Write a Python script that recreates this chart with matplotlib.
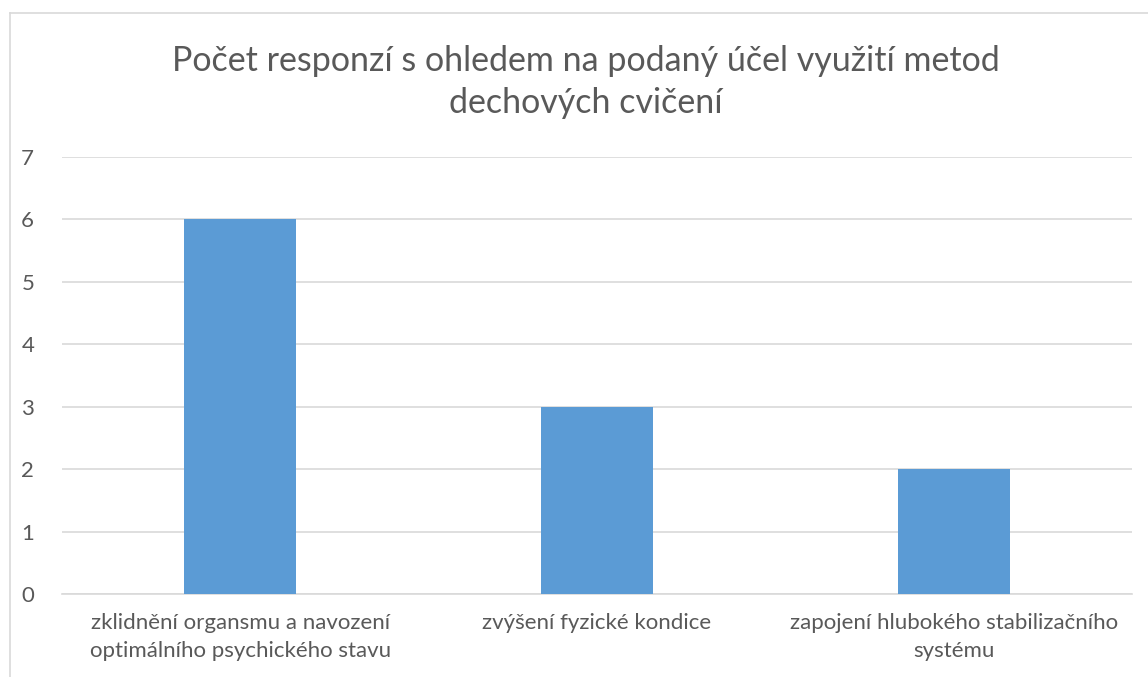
import matplotlib.pyplot as plt
from matplotlib.lines import Line2D

categories = ["zklidnění organsmu a navození\noptimálního psychického stavu",
              "zvýšení fyzické kondice",
              "zapojení hlubokého stabilizačního\nsystému"]
values = [6, 3, 2]
yticks = [0, 1, 2, 3, 4, 5, 6, 7]
title = "Počet responzí s ohledem na podaný účel využití metod\ndechových cvičení"

plt.rcParams["font.family"] = ["Lato", "DejaVu Sans"]
text_color = "#595959"

W, H = 1148, 677
fig = plt.figure(figsize=(W / 100, H / 100), dpi=100)
ax = fig.add_axes([62 / W, 1 - 594 / H, (1132 - 62) / W, (594 - 157) / H])

x = range(len(categories))
ax.bar(x, values, width=0.314, color="#5B9BD5", zorder=3)

ax.set_xlim(-0.5, len(categories) - 0.5)
ax.set_ylim(0, 7)
ax.set_yticks(yticks)
ax.set_xticks(list(x))
ax.set_xticklabels(categories, fontsize=16, color=text_color, linespacing=1.5)
ax.tick_params(axis="y", labelsize=16, labelcolor=text_color, length=0, pad=20)
ax.tick_params(axis="x", length=0, pad=14)
ax.grid(axis="y", color="#D9D9D9", linewidth=1.2, zorder=0)
for s in ["top", "right", "left"]:
    ax.spines[s].set_visible(False)
ax.spines["bottom"].set_color("#D9D9D9")
ax.spines["bottom"].set_linewidth(1.2)

fig.text(586 / W, 1 - 82 / H, title, ha="center", va="center",
         fontsize=24.5, color=text_color, linespacing=1.42)

# chart border (left and top edges visible)
fig.add_artist(Line2D([10 / W, 10 / W], [0, 1 - 13 / H], color="#D9D9D9", linewidth=1.2))
fig.add_artist(Line2D([10 / W, 1], [1 - 13 / H, 1 - 13 / H], color="#D9D9D9", linewidth=1.2))

plt.savefig("out.png", dpi=100)
